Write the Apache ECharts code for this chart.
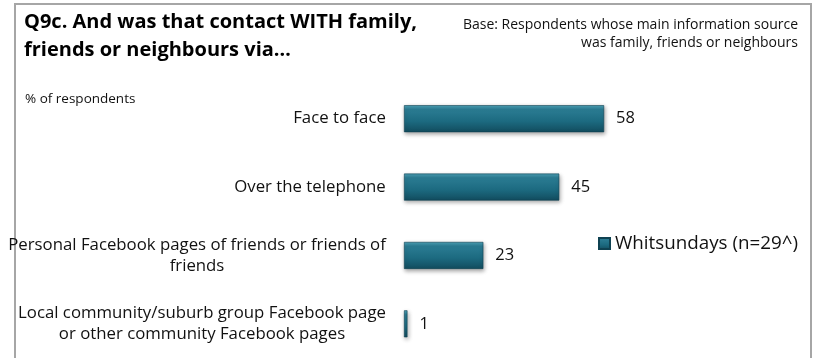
<!DOCTYPE html>
<html>
<head>
<meta charset="utf-8">
<script src="https://cdn.jsdelivr.net/npm/echarts@6/dist/echarts.min.js"></script>
<style>
  html, body { margin: 0; padding: 0; background: #fff; }
  #chart { width: 817px; height: 358px; }
</style>
</head>
<body>
<div id="chart"></div>
<script>
// Survey categories (top to bottom) and share of respondents (%)
const categories = [
  'Face to face',
  'Over the telephone',
  'Personal Facebook pages of friends or friends of\nfriends',
  'Local community/suburb group Facebook page\nor other community Facebook pages'
];
const values = [58, 45, 23, 1];
const seriesName = 'Whitsundays (n=29^)';

const titleText = 'Q9c. And was that contact WITH family,\nfriends or neighbours via…';
const baseText = 'Base: Respondents whose main information source\nwas family, friends or neighbours';
const unitText = '% of respondents';

const FONT = '"Open Sans"';
const LABEL_SIZE = 16.8;

// Measure each label's widest line so multi-line labels can be centred
// within their own block while the block stays right-aligned to the axis.
const ctx = document.createElement('canvas').getContext('2d');
ctx.font = LABEL_SIZE + 'px ' + FONT;
const rich = {};
categories.forEach((c, i) => {
  const w = Math.max(...c.split('\n').map(l => ctx.measureText(l).width));
  rich['c' + i] = { width: Math.ceil(w), align: 'center', fontSize: LABEL_SIZE, fontFamily: FONT, color: '#111', lineHeight: 21 };
});

// Bevelled teal fill: light top edge fading into a darker base
const barColor = new echarts.graphic.LinearGradient(0, 0, 0, 1, [
  { offset: 0, color: '#4ea2b7' },
  { offset: 0.16, color: '#2b7c93' },
  { offset: 0.6, color: '#1c6a80' },
  { offset: 1, color: '#124c5e' }
]);

const chart = echarts.init(document.getElementById('chart'), null, { renderer: 'canvas' });
chart.setOption({
  backgroundColor: '#fff',
  animation: false,
  title: [
    {
      text: titleText, left: 24, top: 8, padding: 0,
      textStyle: { fontFamily: FONT, fontWeight: 'bold', fontSize: 20, color: '#000', lineHeight: 28 }
    },
    {
      text: unitText, left: 25, top: 92, padding: 0,
      textStyle: { fontFamily: FONT, fontWeight: 'normal', fontSize: 13.5, color: '#111' }
    }
  ],
  legend: {
    data: [seriesName],
    left: 598, top: 234, padding: 0,
    itemWidth: 11, itemHeight: 11,
    itemGap: 4,
    icon: 'rect',
    textStyle: { fontFamily: FONT, fontSize: 18.8, color: '#111', padding: [0, 0, 0, 0] }
  },
  graphic: [
    {
      type: 'polyline',
      shape: { points: [[15, 400], [15, 4], [811, 4], [811, 400]] },
      style: { stroke: '#a6a6a6', lineWidth: 2, fill: null }
    },
    {
      type: 'text',
      x: 798, y: 16,
      style: {
        text: baseText, align: 'right', verticalAlign: 'top',
        font: '14px ' + FONT, fill: '#111', lineHeight: 18
      }
    }
  ],
  grid: { left: 404, top: 84.5, width: 345, height: 276 },
  xAxis: {
    type: 'value', min: 0, max: 100,
    show: false
  },
  yAxis: {
    type: 'category', inverse: true,
    data: categories,
    axisLine: { show: false },
    axisTick: { show: false },
    splitLine: { show: false },
    axisLabel: {
      margin: 18,
      formatter: (v, i) => v.split('\n').map(l => '{c' + i + '|' + l + '}').join('\n'),
      rich: rich
    }
  },
  series: [{
    name: seriesName,
    type: 'bar',
    data: values,
    barWidth: 27,
    itemStyle: {
      color: barColor,
      borderColor: '#0f4252', borderWidth: 0.6,
      shadowColor: 'rgba(0,0,0,0.35)', shadowBlur: 4, shadowOffsetY: 2, shadowOffsetX: 1
    },
    label: {
      show: true, position: 'right', distance: 12,
      fontFamily: FONT, fontSize: 16.5, color: '#111'
    }
  }]
});
</script>
</body>
</html>
